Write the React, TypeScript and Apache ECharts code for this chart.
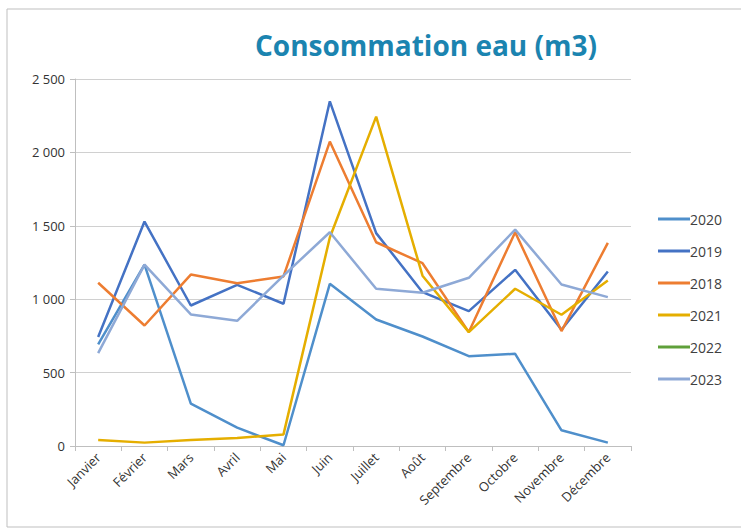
import React, { useEffect, useRef } from "react";
import * as echarts from "echarts";

const months = ["Janvier", "Février", "Mars", "Avril", "Mai", "Juin", "Juillet", "Août", "Septembre", "Octobre", "Novembre", "Décembre"];
const s2020 = [692, 1236, 288, 125, 5, 1105, 862, 746, 612, 628, 107, 23];
const s2019 = [742, 1529, 957, 1098, 969, 2348, 1450, 1048, 919, 1200, 792, 1189];
const s2018 = [1112, 821, 1168, 1109, 1155, 2074, 1388, 1245, 776, 1456, 783, 1384];
const s2021 = [41, 23, 41, 54, 79, 1420, 2244, 1160, 776, 1071, 894, 1127];
const s2022: (number | null)[] = [null, null, null, null, null, null, null, null, null, null, null, null];
const s2023 = [633, 1236, 896, 853, 1161, 1456, 1071, 1044, 1146, 1474, 1100, 1014];
const yTicks = [0, 500, 1000, 1500, 2000, 2500];

const seriesDefs = [
  { name: "2020", data: s2020, color: "#4F8FCB" },
  { name: "2019", data: s2019, color: "#4472C4" },
  { name: "2018", data: s2018, color: "#ED7D31" },
  { name: "2021", data: s2021, color: "#E5AE00" },
  { name: "2022", data: s2022, color: "#5FA03A" },
  { name: "2023", data: s2023, color: "#8EA9D6" },
];

export default function App() {
  const ref = useRef<HTMLDivElement>(null);
  useEffect(() => {
    if (!ref.current) return;
    const chart = echarts.init(ref.current, undefined, { renderer: "svg" });
    chart.setOption({
      animation: false,
      backgroundColor: "#ffffff",
      title: {
        text: "Consommation eau (m3)",
        left: 421,
        top: 26,
        textAlign: "center",
        textStyle: { fontFamily: "Open Sans", fontWeight: "bold", fontSize: 28, color: "#1B84B0" },
      },
      graphic: [
        {
          type: "rect",
          shape: { x: 7, y: 9, width: 740, height: 518 },
          style: { fill: "none", stroke: "#BFBFBF", lineWidth: 1 },
          silent: true,
        },
      ],
      legend: {
        orient: "vertical",
        left: 653,
        top: 207,
        itemGap: 18,
        itemWidth: 32,
        itemHeight: 3,
        icon: "rect",
        textStyle: { fontFamily: "Open Sans", fontSize: 14, color: "#404040", padding: [0, 0, 0, -5] },
        data: seriesDefs.map((s) => s.name),
      },
      grid: { left: 75, right: 110, top: 79, bottom: 85, containLabel: false },
      xAxis: {
        type: "category",
        data: months,
        boundaryGap: true,
        axisLine: { lineStyle: { color: "#BFBFBF", width: 1 } },
        axisTick: { show: true, alignWithLabel: false, length: 5, lineStyle: { color: "#BFBFBF" } },
        axisLabel: { rotate: 45, interval: 0, fontFamily: "Open Sans", fontSize: 13, color: "#333333", margin: 9 },
      },
      yAxis: {
        type: "value",
        min: yTicks[0],
        max: yTicks[yTicks.length - 1],
        interval: 500,
        axisLine: { show: true, lineStyle: { color: "#BFBFBF" } },
        axisTick: { show: true, length: 5, lineStyle: { color: "#BFBFBF" } },
        splitLine: { lineStyle: { color: "#D0D0D0", width: 1 } },
        axisLabel: {
          fontFamily: "Open Sans",
          fontSize: 13,
          color: "#333333",
          margin: 10,
          formatter: (v: number) => String(v).replace(/\B(?=(\d{3})+(?!\d))/g, " "),
        },
      },
      series: seriesDefs.map((s) => ({
        name: s.name,
        type: "line",
        data: s.data,
        showSymbol: false,
        symbol: "none",
        lineStyle: { color: s.color, width: 2.5 },
        itemStyle: { color: s.color },
      })),
    });
    return () => chart.dispose();
  }, []);
  return <div ref={ref} style={{ width: 741, height: 531, position: "absolute", left: 0, top: 0 }} />;
}
